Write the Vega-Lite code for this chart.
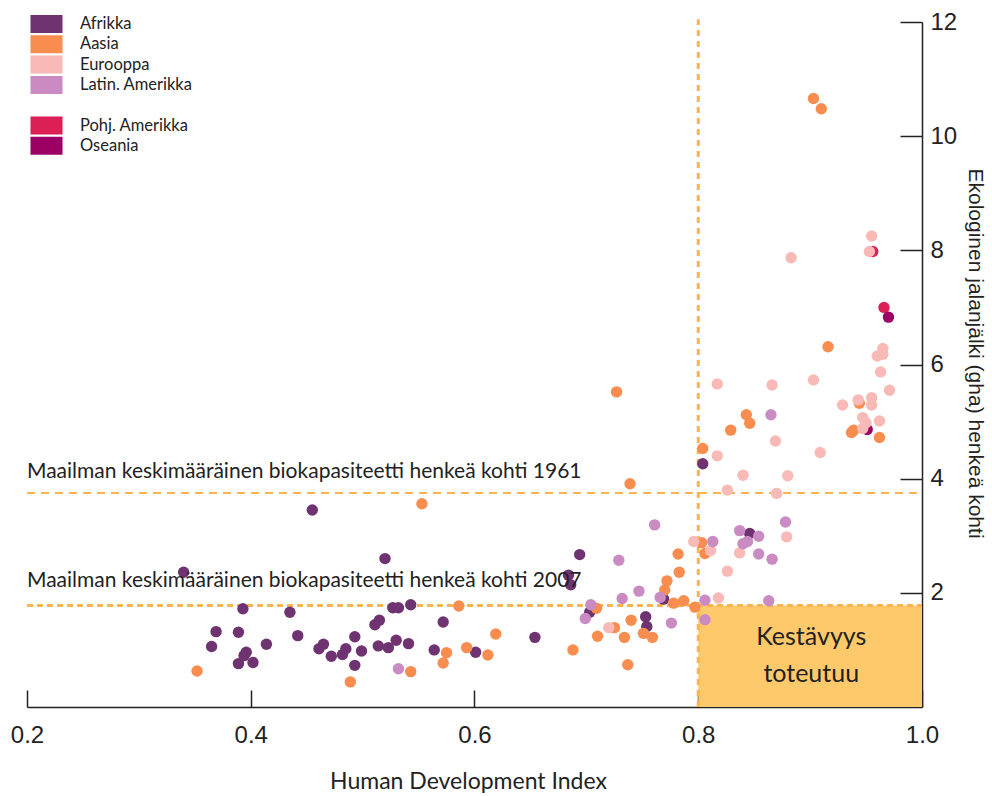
{
  "$schema": "https://vega.github.io/schema/vega-lite/v6.json",
  "width": 895,
  "height": 685,
  "autosize": {"type": "none"},
  "padding": {"left": 27, "top": 22, "right": 70, "bottom": 89},
  "background": "white",
  "config": {
    "view": {"stroke": null},
    "axis": {"grid": false},
    "legend": {
      "orient": "none", "legendX": 10.5, "legendY": -7,
      "symbolType": "M-1.78,-1H1.78V1H-1.78Z", "symbolSize": 324,
      "symbolStrokeWidth": 0, "symbolOpacity": 1,
      "labelFont": "Lato", "labelFontSize": 16.5, "labelColor": "#222",
      "labelOffset": 24.5, "rowPadding": 2.3, "title": null
    }
  },
  "datasets": {
    "points": [
      {"region": "Pohj. Amerikka", "hdi": 0.956, "ef": 7.98},
      {"region": "Pohj. Amerikka", "hdi": 0.966, "ef": 7.00},
      {"region": "Oseania", "hdi": 0.970, "ef": 6.83},
      {"region": "Oseania", "hdi": 0.951, "ef": 4.86},
      {"region": "Afrikka", "hdi": 0.455, "ef": 3.45},
      {"region": "Afrikka", "hdi": 0.520, "ef": 2.60},
      {"region": "Afrikka", "hdi": 0.340, "ef": 2.36},
      {"region": "Afrikka", "hdi": 0.393, "ef": 1.72},
      {"region": "Afrikka", "hdi": 0.435, "ef": 1.66},
      {"region": "Afrikka", "hdi": 0.527, "ef": 1.74},
      {"region": "Afrikka", "hdi": 0.532, "ef": 1.74},
      {"region": "Afrikka", "hdi": 0.543, "ef": 1.79},
      {"region": "Afrikka", "hdi": 0.572, "ef": 1.49},
      {"region": "Afrikka", "hdi": 0.369, "ef": 1.32},
      {"region": "Afrikka", "hdi": 0.389, "ef": 1.31},
      {"region": "Afrikka", "hdi": 0.442, "ef": 1.25},
      {"region": "Afrikka", "hdi": 0.511, "ef": 1.44},
      {"region": "Afrikka", "hdi": 0.515, "ef": 1.52},
      {"region": "Afrikka", "hdi": 0.365, "ef": 1.06},
      {"region": "Afrikka", "hdi": 0.414, "ef": 1.10},
      {"region": "Afrikka", "hdi": 0.396, "ef": 0.96},
      {"region": "Afrikka", "hdi": 0.394, "ef": 0.90},
      {"region": "Afrikka", "hdi": 0.389, "ef": 0.76},
      {"region": "Afrikka", "hdi": 0.402, "ef": 0.78},
      {"region": "Afrikka", "hdi": 0.461, "ef": 1.02},
      {"region": "Afrikka", "hdi": 0.465, "ef": 1.10},
      {"region": "Afrikka", "hdi": 0.472, "ef": 0.89},
      {"region": "Afrikka", "hdi": 0.482, "ef": 0.92},
      {"region": "Afrikka", "hdi": 0.485, "ef": 1.02},
      {"region": "Afrikka", "hdi": 0.493, "ef": 1.23},
      {"region": "Afrikka", "hdi": 0.499, "ef": 0.98},
      {"region": "Afrikka", "hdi": 0.493, "ef": 0.73},
      {"region": "Afrikka", "hdi": 0.514, "ef": 1.07},
      {"region": "Afrikka", "hdi": 0.523, "ef": 1.04},
      {"region": "Afrikka", "hdi": 0.530, "ef": 1.17},
      {"region": "Afrikka", "hdi": 0.541, "ef": 1.11},
      {"region": "Afrikka", "hdi": 0.564, "ef": 1.00},
      {"region": "Afrikka", "hdi": 0.601, "ef": 0.96},
      {"region": "Afrikka", "hdi": 0.654, "ef": 1.22},
      {"region": "Afrikka", "hdi": 0.694, "ef": 2.67},
      {"region": "Afrikka", "hdi": 0.684, "ef": 2.31},
      {"region": "Afrikka", "hdi": 0.686, "ef": 2.14},
      {"region": "Afrikka", "hdi": 0.769, "ef": 1.89},
      {"region": "Afrikka", "hdi": 0.703, "ef": 1.66},
      {"region": "Afrikka", "hdi": 0.753, "ef": 1.58},
      {"region": "Afrikka", "hdi": 0.754, "ef": 1.41},
      {"region": "Afrikka", "hdi": 0.804, "ef": 4.26},
      {"region": "Afrikka", "hdi": 0.846, "ef": 3.04},
      {"region": "Aasia", "hdi": 0.553, "ef": 3.56},
      {"region": "Aasia", "hdi": 0.352, "ef": 0.63},
      {"region": "Aasia", "hdi": 0.543, "ef": 0.62},
      {"region": "Aasia", "hdi": 0.489, "ef": 0.44},
      {"region": "Aasia", "hdi": 0.575, "ef": 0.95},
      {"region": "Aasia", "hdi": 0.572, "ef": 0.77},
      {"region": "Aasia", "hdi": 0.782, "ef": 2.68},
      {"region": "Aasia", "hdi": 0.783, "ef": 2.36},
      {"region": "Aasia", "hdi": 0.772, "ef": 2.21},
      {"region": "Aasia", "hdi": 0.770, "ef": 2.05},
      {"region": "Aasia", "hdi": 0.778, "ef": 1.82},
      {"region": "Aasia", "hdi": 0.787, "ef": 1.86},
      {"region": "Aasia", "hdi": 0.797, "ef": 1.75},
      {"region": "Aasia", "hdi": 0.586, "ef": 1.77},
      {"region": "Aasia", "hdi": 0.709, "ef": 1.73},
      {"region": "Aasia", "hdi": 0.740, "ef": 1.52},
      {"region": "Aasia", "hdi": 0.725, "ef": 1.39},
      {"region": "Aasia", "hdi": 0.751, "ef": 1.29},
      {"region": "Aasia", "hdi": 0.759, "ef": 1.22},
      {"region": "Aasia", "hdi": 0.734, "ef": 1.22},
      {"region": "Aasia", "hdi": 0.710, "ef": 1.24},
      {"region": "Aasia", "hdi": 0.688, "ef": 1.00},
      {"region": "Aasia", "hdi": 0.737, "ef": 0.74},
      {"region": "Aasia", "hdi": 0.619, "ef": 1.28},
      {"region": "Aasia", "hdi": 0.593, "ef": 1.04},
      {"region": "Aasia", "hdi": 0.612, "ef": 0.91},
      {"region": "Aasia", "hdi": 0.843, "ef": 5.12},
      {"region": "Aasia", "hdi": 0.846, "ef": 4.97},
      {"region": "Aasia", "hdi": 0.829, "ef": 4.85},
      {"region": "Aasia", "hdi": 0.804, "ef": 4.53},
      {"region": "Aasia", "hdi": 0.803, "ef": 2.88},
      {"region": "Aasia", "hdi": 0.806, "ef": 2.69},
      {"region": "Aasia", "hdi": 0.944, "ef": 5.32},
      {"region": "Aasia", "hdi": 0.939, "ef": 4.85},
      {"region": "Aasia", "hdi": 0.937, "ef": 4.81},
      {"region": "Aasia", "hdi": 0.962, "ef": 4.72},
      {"region": "Aasia", "hdi": 0.903, "ef": 10.66},
      {"region": "Aasia", "hdi": 0.910, "ef": 10.48},
      {"region": "Aasia", "hdi": 0.916, "ef": 6.31},
      {"region": "Aasia", "hdi": 0.727, "ef": 5.52},
      {"region": "Aasia", "hdi": 0.739, "ef": 3.91},
      {"region": "Eurooppa", "hdi": 0.796, "ef": 2.90},
      {"region": "Eurooppa", "hdi": 0.720, "ef": 1.39},
      {"region": "Eurooppa", "hdi": 0.869, "ef": 4.66},
      {"region": "Eurooppa", "hdi": 0.817, "ef": 4.40},
      {"region": "Eurooppa", "hdi": 0.909, "ef": 4.46},
      {"region": "Eurooppa", "hdi": 0.840, "ef": 4.06},
      {"region": "Eurooppa", "hdi": 0.880, "ef": 4.05},
      {"region": "Eurooppa", "hdi": 0.826, "ef": 3.80},
      {"region": "Eurooppa", "hdi": 0.870, "ef": 3.74},
      {"region": "Eurooppa", "hdi": 0.879, "ef": 2.98},
      {"region": "Eurooppa", "hdi": 0.837, "ef": 2.70},
      {"region": "Eurooppa", "hdi": 0.811, "ef": 2.74},
      {"region": "Eurooppa", "hdi": 0.826, "ef": 2.38},
      {"region": "Eurooppa", "hdi": 0.818, "ef": 1.91},
      {"region": "Eurooppa", "hdi": 0.929, "ef": 5.29},
      {"region": "Eurooppa", "hdi": 0.955, "ef": 5.29},
      {"region": "Eurooppa", "hdi": 0.947, "ef": 5.07},
      {"region": "Eurooppa", "hdi": 0.950, "ef": 4.98},
      {"region": "Eurooppa", "hdi": 0.962, "ef": 5.01},
      {"region": "Eurooppa", "hdi": 0.947, "ef": 4.88},
      {"region": "Eurooppa", "hdi": 0.955, "ef": 8.25},
      {"region": "Eurooppa", "hdi": 0.953, "ef": 7.98},
      {"region": "Eurooppa", "hdi": 0.883, "ef": 7.87},
      {"region": "Eurooppa", "hdi": 0.965, "ef": 6.28},
      {"region": "Eurooppa", "hdi": 0.965, "ef": 6.18},
      {"region": "Eurooppa", "hdi": 0.960, "ef": 6.15},
      {"region": "Eurooppa", "hdi": 0.963, "ef": 5.87},
      {"region": "Eurooppa", "hdi": 0.971, "ef": 5.55},
      {"region": "Eurooppa", "hdi": 0.817, "ef": 5.66},
      {"region": "Eurooppa", "hdi": 0.866, "ef": 5.64},
      {"region": "Eurooppa", "hdi": 0.903, "ef": 5.73},
      {"region": "Eurooppa", "hdi": 0.943, "ef": 5.38},
      {"region": "Eurooppa", "hdi": 0.955, "ef": 5.42},
      {"region": "Latin. Amerikka", "hdi": 0.532, "ef": 0.67},
      {"region": "Latin. Amerikka", "hdi": 0.761, "ef": 3.19},
      {"region": "Latin. Amerikka", "hdi": 0.729, "ef": 2.57},
      {"region": "Latin. Amerikka", "hdi": 0.747, "ef": 2.03},
      {"region": "Latin. Amerikka", "hdi": 0.732, "ef": 1.90},
      {"region": "Latin. Amerikka", "hdi": 0.766, "ef": 1.92},
      {"region": "Latin. Amerikka", "hdi": 0.704, "ef": 1.79},
      {"region": "Latin. Amerikka", "hdi": 0.699, "ef": 1.55},
      {"region": "Latin. Amerikka", "hdi": 0.776, "ef": 1.47},
      {"region": "Latin. Amerikka", "hdi": 0.865, "ef": 5.12},
      {"region": "Latin. Amerikka", "hdi": 0.878, "ef": 3.24},
      {"region": "Latin. Amerikka", "hdi": 0.837, "ef": 3.09},
      {"region": "Latin. Amerikka", "hdi": 0.854, "ef": 2.99},
      {"region": "Latin. Amerikka", "hdi": 0.840, "ef": 2.86},
      {"region": "Latin. Amerikka", "hdi": 0.844, "ef": 2.90},
      {"region": "Latin. Amerikka", "hdi": 0.854, "ef": 2.68},
      {"region": "Latin. Amerikka", "hdi": 0.866, "ef": 2.59},
      {"region": "Latin. Amerikka", "hdi": 0.813, "ef": 2.90},
      {"region": "Latin. Amerikka", "hdi": 0.806, "ef": 1.87},
      {"region": "Latin. Amerikka", "hdi": 0.863, "ef": 1.86},
      {"region": "Latin. Amerikka", "hdi": 0.806, "ef": 1.53}
    ]
  },
  "layer": [
    {
      "data": {"values": [{"x1": 0.8, "x2": 1.0, "y1": 0, "y2": 1.78}]},
      "mark": {"type": "rect", "fill": "#FEC96A"},
      "encoding": {
        "x": {"field": "x1", "type": "quantitative", "scale": {"domain": [0.2, 1.0], "nice": false}, "title": "Human Development Index",
          "axis": {"values": [0.2, 0.4, 0.6, 0.8, 1.0], "format": ".1f", "tickSize": -17, "tickColor": "#222", "tickWidth": 1.5, "domainColor": "#222", "domainWidth": 1.5,
            "labelFont": "Liberation Sans", "labelFontSize": 24, "labelColor": "#222", "labelPadding": 33, "labelFlush": false,
            "titleFont": "Lato", "titleFontSize": 23, "titleFontWeight": "normal", "titleColor": "#222", "titlePadding": 23, "titleX": 441}},
        "x2": {"field": "x2"},
        "y": {"field": "y1", "type": "quantitative", "scale": {"domain": [0, 12], "nice": false}, "title": "Ekologinen jalanjälki (gha) henkeä kohti",
          "axis": {"orient": "right", "values": [2, 4, 6, 8, 10, 12], "format": "d", "tickSize": -22, "tickColor": "#222", "tickWidth": 1.5, "domainColor": "#222", "domainWidth": 1.5,
            "labelFont": "Liberation Sans", "labelFontSize": 24, "labelColor": "#222", "labelPadding": 30,
            "titleFont": "Liberation Sans", "titleFontSize": 21, "titleFontWeight": "normal", "titleColor": "#222", "titlePadding": 8, "titleY": 331}},
        "y2": {"field": "y2"}
      }
    },
    {
      "data": {"values": [{"x": 0.8, "y1": 0, "y2": 12.05}]},
      "mark": {"type": "rule", "stroke": "#FBB44F", "strokeWidth": 3, "strokeDash": [6, 5]},
      "encoding": {
        "x": {"field": "x", "type": "quantitative"},
        "y": {"field": "y1", "type": "quantitative"},
        "y2": {"field": "y2"}
      }
    },
    {
      "data": {"values": [{"y": 3.75, "x1": 0.2, "x2": 1.0}]},
      "mark": {"type": "rule", "stroke": "#FBB44F", "strokeWidth": 2, "strokeDash": [8, 6]},
      "encoding": {
        "y": {"field": "y", "type": "quantitative"},
        "x": {"field": "x1", "type": "quantitative"},
        "x2": {"field": "x2"}
      }
    },
    {
      "data": {"values": [{"y": 1.78, "x1": 0.2, "x2": 1.0}]},
      "mark": {"type": "rule", "stroke": "#FBB44F", "strokeWidth": 3, "strokeDash": [6, 4]},
      "encoding": {
        "y": {"field": "y", "type": "quantitative"},
        "x": {"field": "x1", "type": "quantitative"},
        "x2": {"field": "x2"}
      }
    },
    {
      "data": {"name": "points"},
      "mark": {"type": "circle", "size": 130, "opacity": 1},
      "encoding": {
        "x": {"field": "hdi", "type": "quantitative"},
        "y": {"field": "ef", "type": "quantitative"},
        "color": {"field": "region", "type": "nominal",
          "scale": {"domain": ["Afrikka", "Aasia", "Eurooppa", "Latin. Amerikka", " ", "Pohj. Amerikka", "Oseania"],
                    "range": ["#6F3371", "#F98D4F", "#F9B9B6", "#C98BC2", "rgba(0,0,0,0)", "#DC1F55", "#9C0064"]},
          "legend": {}}
      }
    },
    {
      "data": {"values": [
        {"t": "Maailman keskimääräinen biokapasiteetti henkeä kohti 1961", "x": 0.2, "y": 4.01},
        {"t": "Maailman keskimääräinen biokapasiteetti henkeä kohti 2007", "x": 0.2, "y": 2.10}
      ]},
      "mark": {"type": "text", "align": "left", "baseline": "alphabetic", "font": "Lato", "fontSize": 21, "color": "#222"},
      "encoding": {
        "x": {"field": "x", "type": "quantitative"},
        "y": {"field": "y", "type": "quantitative"},
        "text": {"field": "t"}
      }
    },
    {
      "data": {"values": [
        {"t": "Kestävyys", "x": 0.901, "y": 1.09},
        {"t": "toteutuu", "x": 0.901, "y": 0.44}
      ]},
      "mark": {"type": "text", "align": "center", "baseline": "alphabetic", "font": "Lato", "fontSize": 25, "color": "#222"},
      "encoding": {
        "x": {"field": "x", "type": "quantitative"},
        "y": {"field": "y", "type": "quantitative"},
        "text": {"field": "t"}
      }
    }
  ]
}
